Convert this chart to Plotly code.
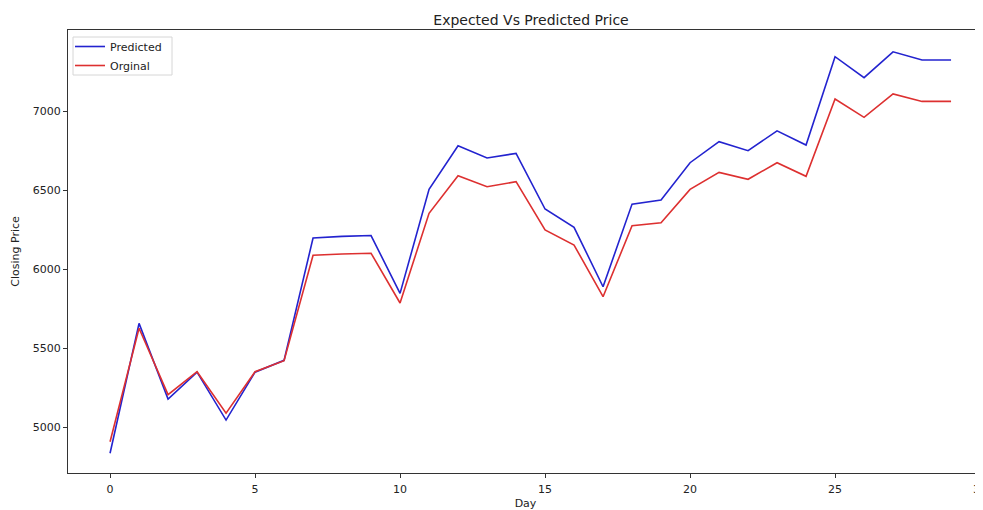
import plotly.graph_objects as go

days = list(range(30))
predicted = [4834, 5656, 5177, 5347, 5044, 5347, 5422, 6196, 6207, 6212, 5846,
             6504, 6780, 6703, 6732, 6380, 6264, 5888, 6411, 6437, 6673, 6806,
             6749, 6875, 6785, 7344, 7211, 7375, 7323, 7323]
original = [4907, 5625, 5205, 5350, 5088, 5350, 5420, 6087, 6095, 6100, 5785,
            6353, 6590, 6521, 6553, 6247, 6152, 5825, 6274, 6293, 6504, 6612,
            6568, 6673, 6587, 7076, 6960, 7108, 7061, 7061]
x_ticks = [0, 5, 10, 15, 20, 25, 30]
y_ticks = [5000, 5500, 6000, 6500, 7000]

# page body has an 8px margin; work in page pixel coordinates
OFF = 8
W, H = 983 - OFF, 510 - OFF
PL, PT, PB = 68, 30, 473          # plot area edges in page pixels
L, T = PL - OFF, PT - OFF
B = H - (PB - OFF)
PW, PH = W - L, H - T - B
font = "DejaVu Sans"


def px_x(p):
    return (p - PL) / PW


def px_y(p):
    return (PB - p) / PH


fig = go.Figure()
fig.add_trace(go.Scatter(x=days, y=predicted, mode="lines", name="Predicted",
                         line=dict(color="#2323cf", width=1.6)))
fig.add_trace(go.Scatter(x=days, y=original, mode="lines", name="Orginal",
                         line=dict(color="#dd3030", width=1.6)))

fig.add_shape(type="rect", xref="paper", yref="paper",
              x0=px_x(73), x1=px_x(172), y0=px_y(75), y1=px_y(37),
              line=dict(color="#d6d6d6", width=1), fillcolor="rgba(255,255,255,0.85)",
              layer="above")

fig.update_layout(
    width=W, height=H,
    margin=dict(l=L, r=0, t=T, b=B, autoexpand=False),
    paper_bgcolor="white", plot_bgcolor="white",
    font=dict(family=font, size=11, color="#222"),
    title=dict(text="Expected Vs Predicted Price", x=(531 - OFF) / W, xref="container",
               xanchor="center", y=1 - (20 - OFF) / H, yref="container", yanchor="middle",
               font=dict(family=font, size=14, color="#222"), automargin=False),
    showlegend=True,
    legend=dict(x=px_x(70), y=px_y(32), xanchor="left", yanchor="top",
                bgcolor="rgba(0,0,0,0)", borderwidth=0,
                font=dict(family=font, size=11, color="#222"),
                itemwidth=30, tracegroupgap=0),
    xaxis=dict(range=[-1.45, -1.45 + PW / 29.0], tickvals=x_ticks, automargin=False,
               showgrid=False, zeroline=False, showline=True, linecolor="#333",
               linewidth=1, mirror=True, ticks="outside", ticklen=4, tickcolor="#333",
               ticklabelstandoff=2, ticklabeloverflow="allow",
               title=dict(text="Day", standoff=4, font=dict(family=font, size=11, color="#222"))),
    yaxis=dict(range=[4709, 7513], tickvals=y_ticks, automargin=False,
               showgrid=False, zeroline=False, showline=True, linecolor="#333",
               linewidth=1, mirror=False, ticks="outside", ticklen=4, tickcolor="#333",
               title=dict(text="Closing Price", standoff=10, font=dict(family=font, size=11, color="#222"))),
)

fig.write_html("out.html")
